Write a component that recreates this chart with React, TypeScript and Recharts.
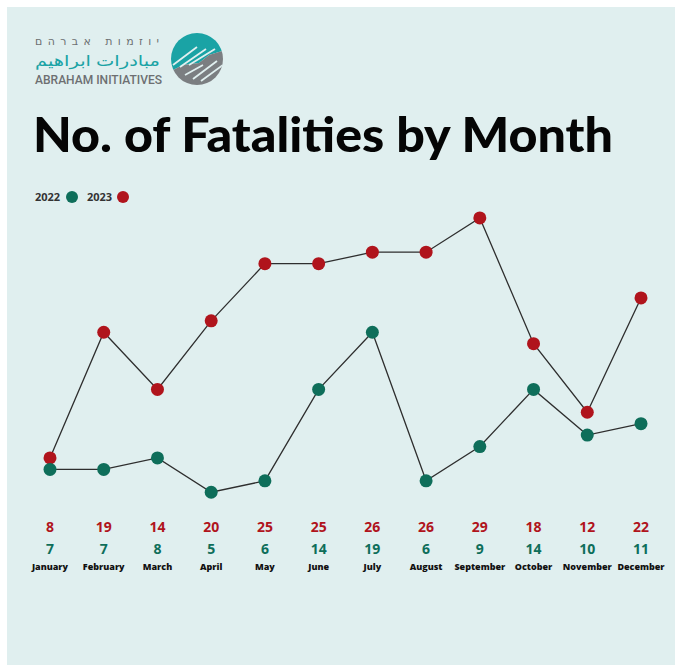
import { Line, LineChart, XAxis, YAxis } from "recharts";

const months = [
  "January", "February", "March", "April", "May", "June",
  "July", "August", "September", "October", "November", "December",
];
const fatalities2022 = [7, 7, 8, 5, 6, 14, 19, 6, 9, 14, 10, 11];
const fatalities2023 = [8, 19, 14, 20, 25, 25, 26, 26, 29, 18, 12, 22];

const RED = "#b0141c";
const GREEN = "#0e6e5a";
const BG = "#e0efef";
const FONT = "'Open Sans', 'Noto Sans', sans-serif";

const data = months.map((m, i) => ({
  month: m,
  y2022: fatalities2022[i],
  y2023: fatalities2023[i],
}));

const MonthTick = (props: any) => {
  const { x, y, payload } = props;
  const i = payload.index;
  return (
    <g transform={`translate(${x},${y})`} fontFamily={FONT} textAnchor="middle">
      <text y={-25} fontSize={14} fontWeight={700} fill={RED}>
        {fatalities2023[i]}
      </text>
      <text y={-3} fontSize={14} fontWeight={700} fill={GREEN}>
        {fatalities2022[i]}
      </text>
      <text y={13} fontSize={9} fontWeight={800} fill="#111">
        {months[i]}
      </text>
    </g>
  );
};

const Logo = () => (
  <g>
    <text x={28} y={38} fontFamily="'DejaVu Sans', sans-serif" fontSize={11} fill="#6d6f72"
      textLength={124} lengthAdjust="spacing">
      יוזמות אברהם
    </text>
    <text x={28} y={59} fontFamily="'Noto Sans', 'DejaVu Sans', sans-serif" fontSize={15} fill="#1aa3a5"
      textLength={125} lengthAdjust="spacingAndGlyphs">
      مبادرات ابراهيم
    </text>
    <text x={28} y={77} fontFamily="'Roboto', sans-serif" fontSize={13} fontWeight={500} fill="#6d6f72"
      textLength={127} lengthAdjust="spacingAndGlyphs">
      ABRAHAM INITIATIVES
    </text>
    <defs>
      <clipPath id="logoClip">
        <circle cx={190} cy={52} r={26} />
      </clipPath>
    </defs>
    <g clipPath="url(#logoClip)">
      <path d="M160,20 L222,20 L222,42 L202,48 L192,56 L176,58 L160,66 Z" fill="#1aa3a5" />
      <path d="M222,42 L222,84 L160,84 L160,66 L176,58 L192,56 L202,48 Z" fill="#7b7e81" />
      <path d="M166,58 L190,40 M173,60 L199,42 M182,58 L208,42" stroke={BG} strokeWidth={1.8} />
      <path d="M186,72 L210,54 M194,74 L216,58 M178,68 L196,58" stroke={BG} strokeWidth={1.8} />
    </g>
  </g>
);

export default function App() {
  return (
    <div
      style={{
        position: "absolute",
        left: 7,
        top: 7,
        width: 668,
        height: 658,
        background: BG,
      }}
    >
      <svg width={668} height={658} style={{ position: "absolute", left: 0, top: 0 }}>
        <Logo />
        <text x={26} y={145} fontFamily="'Lato', 'Open Sans', sans-serif" fontWeight={900} fontSize={47}
          fill="#050505" textLength={580} lengthAdjust="spacingAndGlyphs">
          No. of Fatalities by Month
        </text>
        <g fontFamily={FONT} fontSize={11} fontWeight={700} fill="#333">
          <text x={28} y={194}>2022</text>
          <circle cx={65} cy={190} r={6} fill={GREEN} />
          <text x={80} y={194}>2023</text>
          <circle cx={116} cy={190} r={6} fill={RED} />
        </g>
      </svg>
      <LineChart
        width={668}
        height={658}
        data={data}
        margin={{ top: 199.5, right: 34, bottom: 75.6, left: 43 }}
        style={{ position: "absolute", left: 0, top: 0 }}
      >
        <XAxis dataKey="month" axisLine={false} tickLine={false} height={40} tick={<MonthTick />} interval={0} />
        <YAxis hide domain={[0, 30]} />
        <Line
          dataKey="y2023"
          stroke="#2e2e2e"
          strokeWidth={1.3}
          dot={{ r: 6.5, fill: RED, stroke: "none", fillOpacity: 1 }}
          isAnimationActive={false}
        />
        <Line
          dataKey="y2022"
          stroke="#2e2e2e"
          strokeWidth={1.3}
          dot={{ r: 6.5, fill: GREEN, stroke: "none", fillOpacity: 1 }}
          isAnimationActive={false}
        />
      </LineChart>
    </div>
  );
}
